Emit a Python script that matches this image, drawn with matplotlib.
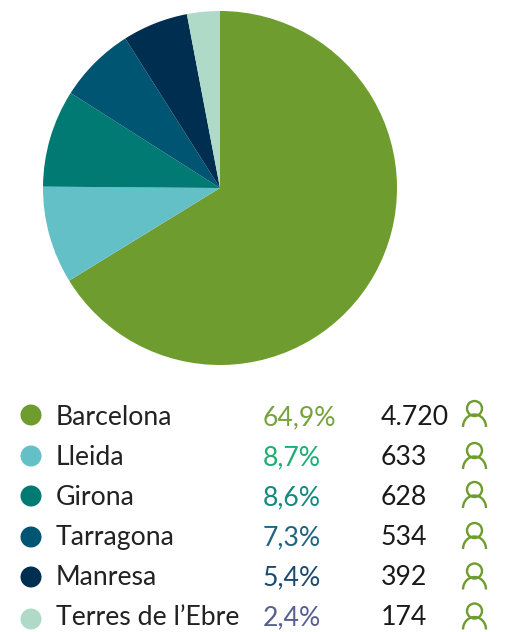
import matplotlib
matplotlib.use("Agg")
import matplotlib.pyplot as plt
from matplotlib.patches import Arc, Circle

W, H = 509, 632

names = ["Barcelona", "Lleida", "Girona", "Tarragona", "Manresa", "Terres de l’Ebre"]
pct_labels = ["64,9%", "8,7%", "8,6%", "7,3%", "5,4%", "2,4%"]
count_labels = ["4.720", "633", "628", "534", "392", "174"]
# slice shares as measured on the picture (they do not follow the labels exactly)
slice_shares = [66.3, 8.9, 8.9, 7.0, 6.0, 3.0]
slice_colors = ["#6F9C2F", "#64C0C7", "#007A72", "#005572", "#002E51", "#B0DAC8"]
pct_colors = ["#76A33C", "#1DAE73", "#14897F", "#1F6480", "#1C4A6E", "#56608F"]

baseline_y = [425, 465, 505, 545, 585, 625]
dot_y = [415, 456, 496, 537, 577, 619]
head_y = [408.5, 450.5, 489.5, 530.5, 571, 611]

plt.rcParams["font.family"] = ["Lato", "DejaVu Sans"]

fig = plt.figure(figsize=(W / 100, H / 100), dpi=100)
ax = fig.add_axes([0, 0, 1, 1])

# Pie drawn in pixel-like coords, y flipped by hand
ax.pie(slice_shares, colors=slice_colors, startangle=90, counterclock=False,
       center=(220, H - 188), radius=177, frame=True)
ax.set_xlim(0, W)
ax.set_ylim(0, H)
ax.axis("off")

fs = 19.2
for i, name in enumerate(names):
    y = H - baseline_y[i]
    ax.add_patch(Circle((31, H - dot_y[i]), 10.5, color=slice_colors[i], lw=0))
    ax.text(56, y, name, fontsize=fs, color="#222222", va="baseline", ha="left")
    ax.text(263, y, pct_labels[i], fontsize=fs, color=pct_colors[i], va="baseline", ha="left")
    ax.text(381, y, count_labels[i], fontsize=fs, color="#1a1a1a", va="baseline", ha="left")

    # person icon
    hy = H - head_y[i]
    ax.add_patch(Circle((474.5, hy), 7.5, fill=False, ec="#6F9C2F", lw=1.7))
    ax.add_patch(Arc((474.5, hy - 18.5), 23, 25, theta1=0, theta2=180, ec="#6F9C2F", lw=1.7))

fig.savefig("out.png", dpi=100)
